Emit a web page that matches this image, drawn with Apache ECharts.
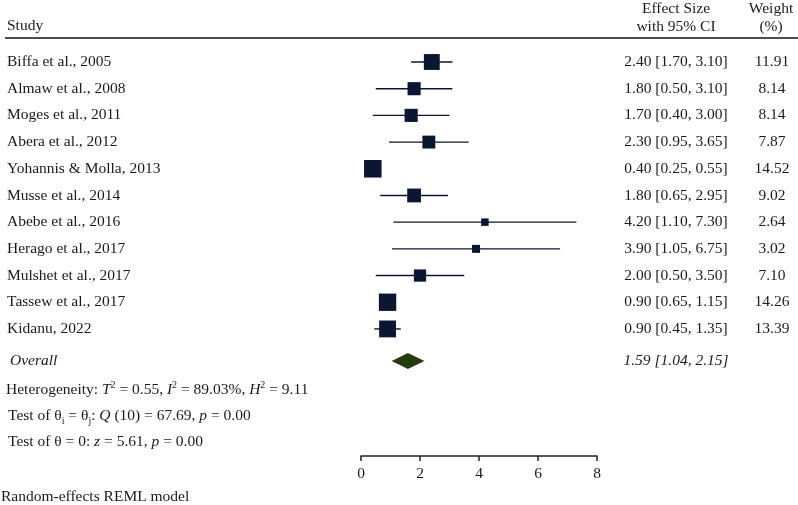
<!DOCTYPE html>
<html><head><meta charset="utf-8">
<script src="https://cdn.jsdelivr.net/npm/echarts@6/dist/echarts.min.js"></script>
<style>html,body{margin:0;padding:0;background:#fff}#c{width:798px;height:505px}</style>
</head><body><div id="c"></div>
<script>
const studies = ["Biffa et al., 2005","Almaw et al., 2008","Moges et al., 2011","Abera et al., 2012","Yohannis & Molla, 2013","Musse et al., 2014","Abebe et al., 2016","Herago et al., 2017","Mulshet et al., 2017","Tassew et al., 2017","Kidanu, 2022"];
const effect = [2.40,1.80,1.70,2.30,0.40,1.80,4.20,3.90,2.00,0.90,0.90];
const lower  = [1.70,0.50,0.40,0.95,0.25,0.65,1.10,1.05,0.50,0.65,0.45];
const upper  = [3.10,3.10,3.00,3.65,0.55,2.95,7.30,6.75,3.50,1.15,1.35];
const weights = [11.91,8.14,8.14,7.87,14.52,9.02,2.64,3.02,7.10,14.26,13.39];
const overallLabel = "Overall";
const overallEffect = [1.59];
const overallLower = [1.04];
const overallUpper = [2.15];
const xTicks = [0,2,4,6,8];

const FONT = '"Liberation Serif", "DejaVu Serif", serif';
const FS = 15.5;
const TXT = '#1a1a1a';
const NAVY = '#0b1632';
const OVERALL_ROW = 11.2;
const fmt = v => v.toFixed(2);

const chart = echarts.init(document.getElementById('c'), null, {renderer:'canvas'});

const rowData = studies.map((s,i)=>[lower[i], upper[i], i, effect[i], weights[i]]);
const sqData = studies.map((s,i)=>[effect[i], i, weights[i]]);

const option = {
  animation:false,
  grid:{left:361, right:201, top:48.65, bottom:49},
  xAxis:{type:'value', position:'bottom', min:xTicks[0], max:xTicks[xTicks.length-1], interval:xTicks[1]-xTicks[0],
    axisLine:{show:true, onZero:false, lineStyle:{color:'#222', width:1.5}},
    axisTick:{show:true, length:5, lineStyle:{color:'#222', width:1.5}},
    splitLine:{show:false},
    axisLabel:{fontFamily:FONT, fontSize:FS, color:TXT, margin:10}},
  yAxis:{type:'value', min:-0.5, max:14.76, inverse:true, show:false},
  series:[
    {type:'custom', clip:false, z:2, data:rowData,
     renderItem:(params, api)=>{
       const lo=api.value(0), hi=api.value(1), r=api.value(2), es=api.value(3), w=api.value(4);
       const p1=api.coord([lo,r]), p2=api.coord([hi,r]);
       const y=p1[1];
       return {type:'group', children:[
         {type:'line', shape:{x1:p1[0],y1:y,x2:p2[0],y2:y}, style:{stroke:NAVY, lineWidth:1.4}},
         {type:'text', x:7, y:y, style:{text:studies[r], font:`${FS}px ${FONT}`, fill:TXT, align:'left', verticalAlign:'middle'}},
         {type:'text', x:676, y:y, style:{text:`${fmt(es)} [${fmt(lo)}, ${fmt(hi)}]`, font:`${FS}px ${FONT}`, fill:TXT, align:'center', verticalAlign:'middle'}},
         {type:'text', x:772, y:y, style:{text:fmt(w), font:`${FS}px ${FONT}`, fill:TXT, align:'center', verticalAlign:'middle'}}
       ]};
     }},
    {type:'scatter', z:3, data:sqData, symbol:'rect',
     symbolSize:(v)=>4.6*Math.sqrt(v[2]),
     itemStyle:{color:NAVY, opacity:1}},
    {type:'custom', clip:false, z:3, data:[[overallLower[0], overallEffect[0], overallUpper[0]]],
     renderItem:(params, api)=>{
       const lo=api.coord([api.value(0),OVERALL_ROW]), es=api.coord([api.value(1),OVERALL_ROW]), hi=api.coord([api.value(2),OVERALL_ROW]);
       const y=lo[1];
       return {type:'group', children:[
         {type:'polygon', shape:{points:[[lo[0],y],[es[0],y-8],[hi[0],y],[es[0],y+8]]}, style:{fill:'#253b10'}},
         {type:'text', x:10, y:y, style:{text:overallLabel, font:`italic ${FS}px ${FONT}`, fill:TXT, align:'left', verticalAlign:'middle'}},
         {type:'text', x:676, y:y, style:{text:`${fmt(api.value(1))} [${fmt(api.value(0))}, ${fmt(api.value(2))}]`, font:`italic ${FS}px ${FONT}`, fill:TXT, align:'center', verticalAlign:'middle'}}
       ]};
     }}
  ],
  graphic:[
    {type:'line', shape:{x1:5,y1:38,x2:798,y2:38}, style:{stroke:'#4d4d4d', lineWidth:2}},
    {type:'text', x:7, y:26, style:{text:'Study', font:`${FS}px ${FONT}`, fill:TXT, verticalAlign:'middle'}},
    {type:'text', x:676, y:9, style:{text:'Effect Size', font:`${FS}px ${FONT}`, fill:TXT, align:'center', verticalAlign:'middle'}},
    {type:'text', x:676, y:27, style:{text:'with 95% CI', font:`${FS}px ${FONT}`, fill:TXT, align:'center', verticalAlign:'middle'}},
    {type:'text', x:771, y:9, style:{text:'Weight', font:`${FS}px ${FONT}`, fill:TXT, align:'center', verticalAlign:'middle'}},
    {type:'text', x:771, y:27, style:{text:'(%)', font:`${FS}px ${FONT}`, fill:TXT, align:'center', verticalAlign:'middle'}},
    {type:'text', x:6, y:390, style:{
      text:'{n|Heterogeneity: }{i|T}{s|2}{n| = 0.55, }{i|I}{s|2}{n| = 89.03%, }{i|H}{s|2}{n| = 9.11}',
      font:`${FS}px ${FONT}`, fill:TXT, verticalAlign:'middle',
      rich:{n:{fontFamily:FONT,fontSize:FS,color:TXT,lineHeight:20},
            i:{fontFamily:FONT,fontSize:FS,fontStyle:'italic',color:TXT,lineHeight:20},
            s:{fontFamily:FONT,fontSize:10,color:TXT,verticalAlign:'top',lineHeight:20,padding:[0,0,8,0]}}}},
    {type:'text', x:8, y:416, style:{
      text:'{n|Test of θ}{b|i}{n| = θ}{b|j}{n|: }{i|Q}{n| (10) = 67.69, }{i|p}{n| = 0.00}',
      font:`${FS}px ${FONT}`, fill:TXT, verticalAlign:'middle',
      rich:{n:{fontFamily:FONT,fontSize:FS,color:TXT,lineHeight:20},
            i:{fontFamily:FONT,fontSize:FS,fontStyle:'italic',color:TXT,lineHeight:20},
            b:{fontFamily:FONT,fontSize:10,color:TXT,verticalAlign:'bottom',lineHeight:20,padding:[6,0,0,0]}}}},
    {type:'text', x:8, y:442, style:{
      text:'{n|Test of θ = 0: }{i|z}{n| = 5.61, }{i|p}{n| = 0.00}',
      font:`${FS}px ${FONT}`, fill:TXT, verticalAlign:'middle',
      rich:{n:{fontFamily:FONT,fontSize:FS,color:TXT},
            i:{fontFamily:FONT,fontSize:FS,fontStyle:'italic',color:TXT}}}},
    {type:'text', x:1, y:497, style:{text:'Random-effects REML model', font:`${FS}px ${FONT}`, fill:TXT, verticalAlign:'middle'}}
  ]
};
chart.setOption(option);
</script></body></html>
